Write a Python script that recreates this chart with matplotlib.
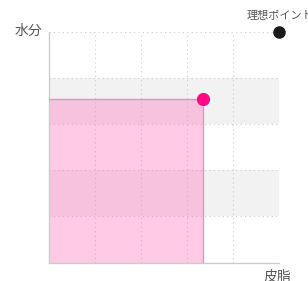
import matplotlib
matplotlib.use("Agg")
import matplotlib.pyplot as plt
from matplotlib.patches import Rectangle

plt.rcParams['font.family'] = ['Noto Sans CJK JP', 'DejaVu Sans']

# data
x_label = "皮脂"
y_label = "水分"
ideal_label = "理想ポイント"
current_point = (67, 71)
ideal_point = (100, 100)
grid_ticks = [0, 20, 40, 60, 80, 100]
gray_bands = [(20, 40), (60, 80)]

fig = plt.figure(figsize=(3.08, 2.81), dpi=100)
ax = fig.add_axes([0.1575, 0.0658, 0.7485, 0.822])
ax.set_xlim(0, 100)
ax.set_ylim(0, 100)

for lo, hi in gray_bands:
    ax.axhspan(lo, hi, color='#f2f2f2', zorder=0, lw=0)

for t in grid_ticks[1:]:
    ax.axvline(t, color='#cccccc', lw=0.8, ls=(0, (1, 3)), zorder=1)
    ax.axhline(t, color='#cccccc', lw=0.8, ls=(0, (1, 3)), zorder=1)

ax.add_patch(Rectangle((0, 0), current_point[0], current_point[1],
                       facecolor='#ff69b4', alpha=0.35, edgecolor='none', zorder=2))
ax.plot([current_point[0], current_point[0], 0], [0, current_point[1], current_point[1]],
        color='#f48cc0', lw=1.0, zorder=3)

ax.plot([current_point[0]], [current_point[1]], 'o', color='#ff0a84', ms=8.5, clip_on=False, zorder=5)
ax.plot([ideal_point[0]], [ideal_point[1]], 'o', color='#1a1a1a', ms=8, clip_on=False, zorder=5)

for s in ['top', 'right']:
    ax.spines[s].set_visible(False)
for s in ['left', 'bottom']:
    ax.spines[s].set_color('#cccccc')
    ax.spines[s].set_linewidth(1.0)
ax.set_xticks([])
ax.set_yticks([])

fig.text(28 / 308, 1 - 31 / 281, y_label, ha='center', va='center', fontsize=10, color='#555555')
fig.text(277.5 / 308, 1 - 277 / 281, x_label, ha='center', va='center', fontsize=10, color='#555555')
fig.text(247 / 308, 1 - 16 / 281, ideal_label, ha='left', va='center', fontsize=8, color='#555555')

fig.savefig('out.png', dpi=100)
